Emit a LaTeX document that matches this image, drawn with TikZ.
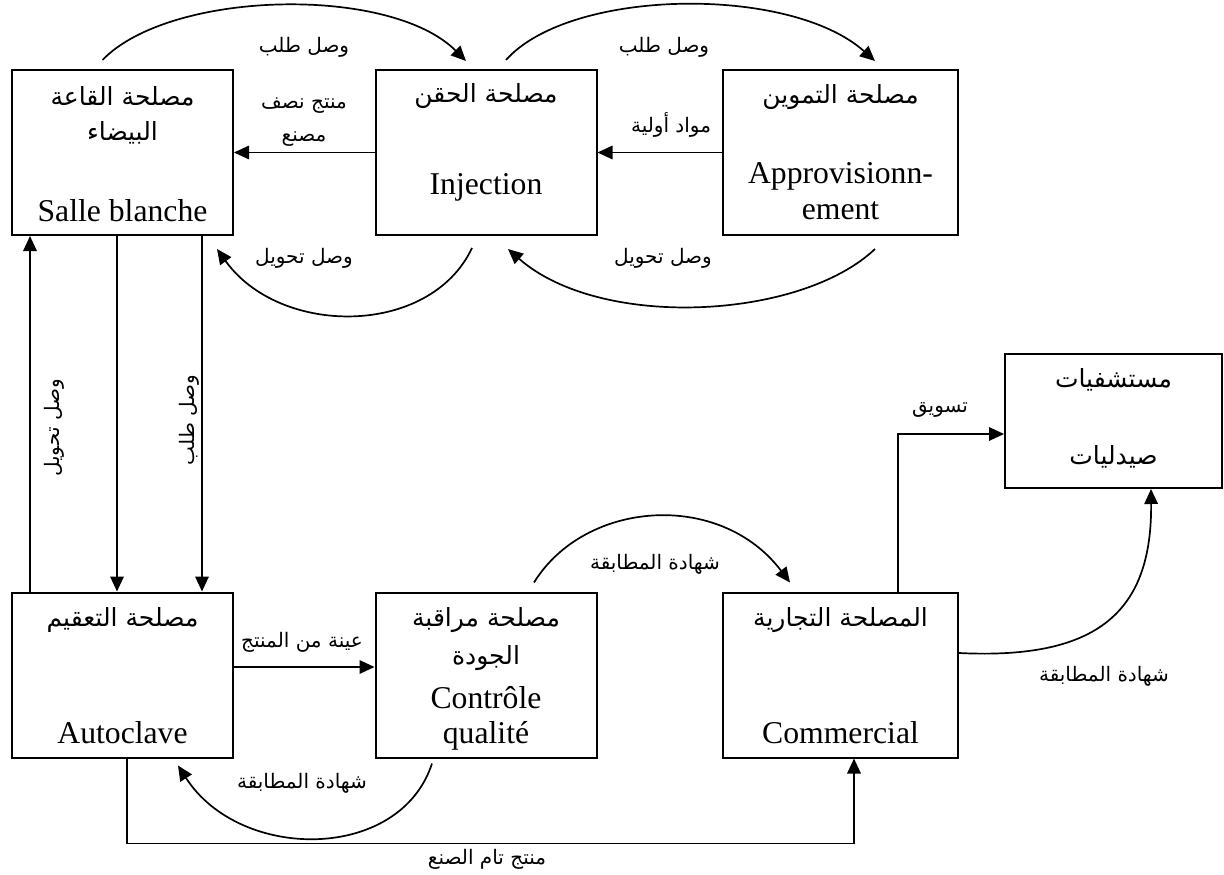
\documentclass[tikz,border=0pt]{standalone}
\usepackage{fontspec}
\setmainfont{Liberation Serif}
\newfontfamily\arabicfont[Script=Arabic]{DejaVu Sans}
\TeXXeTstate=1
\usetikzlibrary{arrows.meta,calc}
\newcommand{\artxt}[1]{\beginR #1\endR}
\tikzset{
  box/.style={draw, line width=2pt, minimum width=221pt, minimum height=165pt, inner sep=0pt},
  ttl/.style={font=\arabicfont\fontsize{25}{29}\selectfont, inner sep=0pt},
  lat/.style={font=\fontsize{31.7}{36}\selectfont, anchor=base, inner sep=0pt},
  lbl/.style={font=\arabicfont\fontsize{20}{24}\selectfont, inner sep=0pt},
  arr/.style={line width=1.7pt, -{Triangle[length=15pt,width=13.5pt]}}
}
\begin{document}
\begin{tikzpicture}[x=1pt,y=-1pt]
\useasboundingbox (0,0) rectangle (1224,875);

% departments
\node[box] (salle) at (122.5,152.5) {};
\node[box] (inj) at (486,152.5) {};
\node[box, minimum width=235pt] (appro) at (840.5,152.5) {};
\node[box] (auto) at (122.5,675) {};
\node[box] (qual) at (486,675) {};
\node[box, minimum width=235pt] (comm) at (840.5,675) {};
\node[box, minimum width=217pt, minimum height=134pt] (hosp) at (1113.5,421) {};

% box texts
\node[ttl] (salleA) at (122.5,96) {\artxt{مصلحة القاعة}};
\node[ttl] (salleB) at (122.5,133) {\artxt{البيضاء}};
\node[lat] (salleC) at (122.5,221) {Salle blanche};
\node[ttl] (injA) at (486,96) {\artxt{مصلحة الحقن}};
\node[lat] (injB) at (486,194) {Injection};
\node[ttl] (approA) at (840.5,97) {\artxt{مصلحة التموين}};
\node[lat] (approB) at (840.5,183) {Approvisionn-};
\node[lat] (approC) at (840.5,219) {ement};
\node[ttl] (autoA) at (122.5,620) {\artxt{مصلحة التعقيم}};
\node[lat] (autoB) at (122.5,743) {Autoclave};
\node[ttl] (qualA) at (486,620) {\artxt{مصلحة مراقبة}};
\node[ttl] (qualB) at (486,658) {\artxt{الجودة}};
\node[lat] (qualC) at (486,708) {Contrôle};
\node[lat] (qualD) at (486,743) {qualité};
\node[ttl] (commA) at (840.5,620) {\artxt{المصلحة التجارية}};
\node[lat] (commB) at (840.5,743) {Commercial};
\node[ttl] (hospA) at (1113.5,380) {\artxt{مستشفيات}};
\node[ttl] (hospB) at (1113.5,457) {\artxt{صيدليات}};

% flows between departments
\draw[arr] ([shift={(-20,-9)}]salle.north) .. controls (170,-10) and (390,-15) .. ([shift={(-20,-8)}]inj.north);
\draw[arr] ([shift={(20,-9)}]inj.north) .. controls (570,-12) and (790,-15) .. ([shift={(34.5,-8)}]appro.north);
\draw[arr] (inj.west) -- (salle.east);
\draw[arr] (appro.west) -- (inj.east);
\draw[arr] ([shift={(-14,12)}]inj.south) .. controls (430,337) and (280,337) .. ([shift={(94.5,13)}]salle.south);
\draw[arr] ([shift={(34.5,13)}]appro.south) .. controls (800,320) and (600,330) .. ([shift={(22,13)}]inj.south);
\draw[arr] ([xshift=-92.5pt]auto.north) -- ([xshift=-92.5pt]salle.south);
\draw[arr] ([xshift=-5.5pt]salle.south) -- ([xshift=-5.5pt]auto.north);
\draw[arr] ([xshift=79.5pt]salle.south) -- ([xshift=79.5pt]auto.north);
\draw[arr] ([yshift=8pt]auto.east) -- ([yshift=8pt]qual.west);
\draw[arr] ([shift={(-54,5)}]qual.south) .. controls (400,862) and (240,862) .. ([shift={(55.5,7)}]auto.south);
\draw[arr] ([xshift=4.5pt]auto.south) -- ++(0,85) -| ([xshift=13.5pt]comm.south);
\draw[arr] ([shift={(48,-9)}]qual.north) .. controls (585,500) and (720,490) .. ([shift={(-50.5,-9)}]comm.north);
\draw[arr] ([xshift=57.5pt]comm.north) |- ([yshift=-13pt]hosp.west);
\draw[arr] ([yshift=22pt]comm.east) .. controls (1100,660) and (1152,610) .. ([xshift=37.5pt]hosp.south);

% flow labels
\node[lbl] (l1) at (304,47) {\artxt{وصل طلب}};
\node[lbl] (l2) at (664,47) {\artxt{وصل طلب}};
\node[lbl] (l3a) at (304,106) {\artxt{منتج نصف}};
\node[lbl] (l3b) at (304,139) {\artxt{مصنع}};
\node[lbl] (l4) at (671,125) {\artxt{مواد أولية}};
\node[lbl] (l5) at (304,258) {\artxt{وصل تحويل}};
\node[lbl] (l6) at (663,258) {\artxt{وصل تحويل}};
\node[lbl, rotate=90] (l7) at (54,428) {\artxt{وصل تحويل}};
\node[lbl, rotate=90] (l8) at (189,420) {\artxt{وصل طلب}};
\node[lbl] (l9) at (302,642) {\artxt{عينة من المنتج}};
\node[lbl] (l10) at (302,783) {\artxt{شهادة المطابقة}};
\node[lbl] (l11) at (487,859) {\artxt{منتج تام الصنع}};
\node[lbl] (l12) at (655,564) {\artxt{شهادة المطابقة}};
\node[lbl] (l13) at (940,410) {\artxt{تسويق}};
\node[lbl] (l14) at (1104,676) {\artxt{شهادة المطابقة}};
\end{tikzpicture}
\end{document}
